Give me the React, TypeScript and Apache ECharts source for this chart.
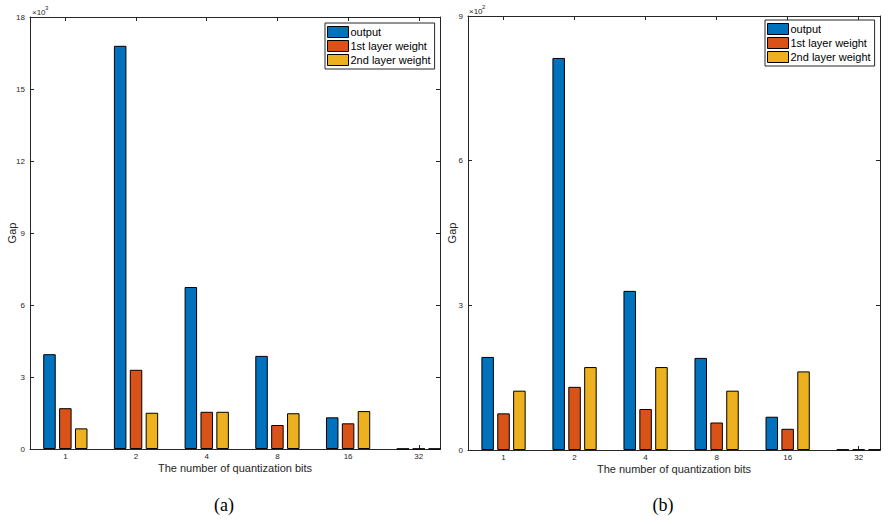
import React, { useEffect, useRef } from 'react';
import * as echarts from 'echarts';

// Category labels (quantization bits)
const categories = ['1', '2', '4', '8', '16', '32'];
const seriesNames = ['output', '1st layer weight', '2nd layer weight'];
const colors = ['#0072BD', '#D95319', '#EDB120'];

// Panel (a): values in units of 10^3
const aOutput = [3.95, 16.8, 6.75, 3.88, 1.32, 0.01];
const aFirst = [1.7, 3.3, 1.55, 1.0, 1.07, 0.01];
const aSecond = [0.86, 1.51, 1.55, 1.49, 1.58, 0.01];

// Panel (b): values in units of 10^2
const bOutput = [1.93, 8.13, 3.3, 1.91, 0.69, 0.01];
const bFirst = [0.76, 1.31, 0.85, 0.57, 0.44, 0.01];
const bSecond = [1.23, 1.72, 1.72, 1.23, 1.63, 0.01];

const aYMax = 18;
const bYMax = 9;
const yStep = 3;
const aExponent = '3';
const bExponent = '2';
const yName = 'Gap';
const xName = 'The number of quantization bits';
const captions = ['(a)', '(b)'];

const FONT = 'Liberation Sans, Arial, sans-serif';
const AX = '#262626';

const positions = categories.map((_, i) => i + 1);

function xAxes(gridIndex: number) {
  const base = {
    type: 'value' as const,
    gridIndex,
    min: 0.5,
    max: 6.3,
    splitLine: { show: false },
    axisLine: { show: true, onZero: false, lineStyle: { color: AX, width: 1 } },
    axisTick: { show: true, inside: true, length: 4, customValues: positions, lineStyle: { color: AX } },
  };
  return [
    {
      ...base,
      position: 'bottom',
      name: xName,
      nameLocation: 'middle',
      nameGap: 13,
      nameMoveOverlap: false,
      nameTextStyle: { fontFamily: FONT, fontSize: 11, color: AX, lineHeight: 11 },
      axisLabel: {
        show: true,
        customValues: positions,
        formatter: (v: number) => categories[Math.round(v) - 1] ?? '',
        fontFamily: FONT,
        fontSize: 8,
        lineHeight: 8,
        color: AX,
        margin: 3,
      },
    },
    { ...base, position: 'top', axisLabel: { show: false } },
  ];
}

function yAxes(gridIndex: number, max: number, nameGap: number) {
  const base = {
    type: 'value' as const,
    gridIndex,
    min: 0,
    max,
    interval: yStep,
    splitLine: { show: false },
    axisLine: { show: true, lineStyle: { color: AX, width: 1 } },
    axisTick: { show: true, inside: true, length: 4, lineStyle: { color: AX } },
  };
  return [
    {
      ...base,
      position: 'left',
      name: yName,
      nameLocation: 'middle',
      nameGap,
      nameMoveOverlap: false,
      nameTextStyle: { fontFamily: FONT, fontSize: 11, color: AX },
      axisLabel: { fontFamily: FONT, fontSize: 8, color: AX, margin: 5 },
    },
    { ...base, position: 'right', axisLabel: { show: false } },
  ];
}

function barSeries(values: number[][], xAxisIndex: number, yAxisIndex: number) {
  return values.map((vals, si) => ({
    type: 'bar',
    name: seriesNames[si],
    xAxisIndex,
    yAxisIndex,
    barWidth: 12.5,
    barGap: '27%',
    clip: true,
    itemStyle: { color: colors[si], borderColor: '#000', borderWidth: 1 },
    emphasis: { disabled: true },
    data: vals.map((v, i) => [positions[i], v]),
  }));
}

function legendAt(left: number, top: number) {
  return {
    orient: 'vertical',
    left,
    top,
    data: seriesNames,
    icon: 'rect',
    itemWidth: 21,
    itemHeight: 11,
    itemGap: 2,
    padding: [3, 4, 3, 2],
    backgroundColor: '#fff',
    borderColor: AX,
    borderWidth: 1,
    borderRadius: 0,
    selectedMode: false,
    align: 'left',
    itemStyle: { borderColor: '#000', borderWidth: 1 },
    textStyle: { fontFamily: FONT, fontSize: 11, color: '#000', lineHeight: 12, padding: [0, 0, 0, -3] },
  };
}

export default function App() {
  const ref = useRef<HTMLDivElement>(null);
  useEffect(() => {
    if (!ref.current) return;
    const chart = echarts.init(ref.current, undefined, { renderer: 'svg' });
    chart.setOption({
      animation: false,
      backgroundColor: '#fff',
      grid: [
        { left: 30, top: 17, width: 410, height: 432 },
        { left: 468, top: 16, width: 412, height: 434 },
      ],
      xAxis: [...xAxes(0), ...xAxes(1)],
      yAxis: [...yAxes(0, aYMax, 13), ...yAxes(1, bYMax, 11)],
      legend: [legendAt(325, 23), legendAt(765, 20)],
      series: [
        ...barSeries([aOutput, aFirst, aSecond], 0, 0),
        ...barSeries([bOutput, bFirst, bSecond], 2, 2),
      ],
      graphic: [
        { type: 'text', left: 32, top: 8, style: { text: '×10', fontFamily: FONT, fontSize: 8, fill: AX } },
        { type: 'text', left: 45, top: 5, style: { text: aExponent, fontFamily: FONT, fontSize: 6, fill: AX } },
        { type: 'text', left: 469, top: 7, style: { text: '×10', fontFamily: FONT, fontSize: 8, fill: AX } },
        { type: 'text', left: 482, top: 4, style: { text: bExponent, fontFamily: FONT, fontSize: 6, fill: AX } },
        { type: 'text', x: 224, y: 505, style: { text: captions[0], fontFamily: 'Liberation Serif, serif', fontSize: 18, fill: '#000', align: 'center', verticalAlign: 'middle' } },
        { type: 'text', x: 663, y: 505, style: { text: captions[1], fontFamily: 'Liberation Serif, serif', fontSize: 18, fill: '#000', align: 'center', verticalAlign: 'middle' } },
      ],
    });
    return () => chart.dispose();
  }, []);
  return <div ref={ref} style={{ position: 'fixed', left: 0, top: 0, width: 888, height: 524 }} />;
}
